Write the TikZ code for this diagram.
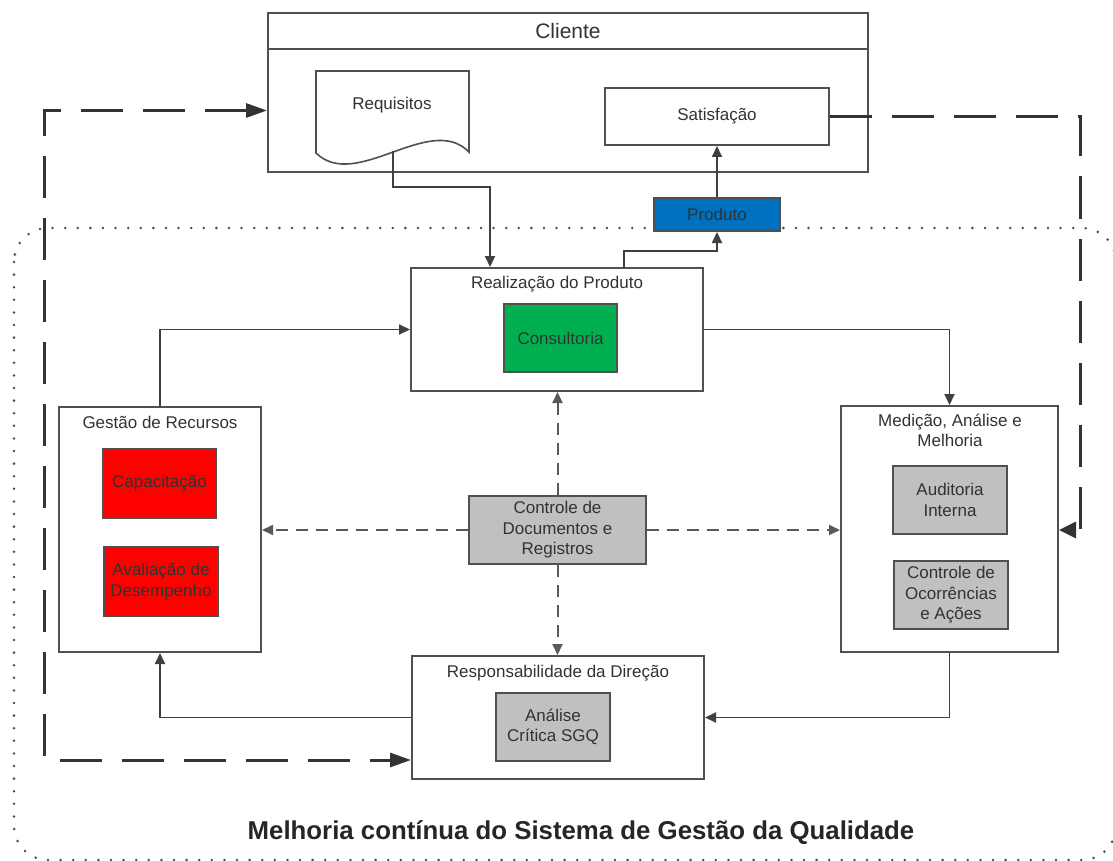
\documentclass[tikz,border=0pt]{standalone}
\usepackage{fontspec}
\setmainfont{Liberation Sans}
\usetikzlibrary{arrows.meta}
\definecolor{bord}{RGB}{80,80,80}
\definecolor{txt}{RGB}{50,50,50}
\definecolor{redf}{RGB}{255,0,0}
\definecolor{greenf}{RGB}{0,176,80}
\definecolor{bluef}{RGB}{0,112,192}
\definecolor{grayf}{RGB}{192,192,192}
\begin{document}
\begin{tikzpicture}[x=1pt,y=-1pt,
  box/.style={draw=bord, line width=2pt, rectangle, inner sep=0pt, align=center,
    text=txt, font=\fontsize{17}{20.5}\selectfont},
  ttl/.style={inner sep=0pt, align=center, text=txt, font=\fontsize{17}{20.5}\selectfont},
  flow/.style={draw=black!75, line width=1.9pt, -{Triangle[length=11pt,width=10pt]}},
  ctl/.style={draw=black!65, line width=2pt, dash pattern=on 12pt off 8pt,
    -{Triangle[length=11pt,width=10pt]}},
  loopline/.style={draw=black!80, line width=3pt, dash pattern=on 42pt off 20pt},
  bigtip/.tip={Triangle[length=21pt,width=14pt]}
]
\useasboundingbox (0,0) rectangle (1113,861);

% dotted frame
\draw[draw=black!70, line width=2.8pt, dash pattern=on 0pt off 12.6pt, line cap=round,
  rounded corners=34pt] (14,228) rectangle (1116,860);

% Cliente
\node[box, minimum width=600pt, minimum height=36pt, font=\fontsize{21}{24}\selectfont]
  (clihead) at (568,31) {Cliente};
\node[box, minimum width=600pt, minimum height=123pt] (clibody) at (568,110.5) {};

% Requisitos document
\draw[draw=bord, line width=1.6pt, fill=white]
  (316,153) -- (316,71) -- (469,71) -- (469,152)
  .. controls (430,112) and (356,192) .. (316,153) -- cycle;
\node[ttl] (req) at (392,105) {Requisitos};
\coordinate (reqb) at (393,151);

\node[box, minimum width=224pt, minimum height=57pt] (sat) at (717,116.5) {Satisfação};
\node[box, fill=bluef, minimum width=126pt, minimum height=33pt] (prod) at (717,214.5) {Produto};

% Realizacao
\node[box, minimum width=292pt, minimum height=123pt] (real) at (557,329.5) {};
\node[ttl] (realt) at (557,284) {Realização do Produto};
\node[box, fill=greenf, minimum width=113pt, minimum height=68pt] (cons) at (560.5,338) {Consultoria};

% Gestao de Recursos
\node[box, minimum width=202pt, minimum height=245pt] (gest) at (160,529.5) {};
\node[ttl] (gestt) at (160,422) {Gestão de Recursos};
\node[box, fill=redf, minimum width=113pt, minimum height=69pt] (cap) at (159.5,483.5) {Capacitação};
\node[box, fill=redf, minimum width=114pt, minimum height=69pt] (aval) at (161,581.5) {Avaliação de\\Desempenho};

% Controle de Documentos
\node[box, fill=grayf, minimum width=177pt, minimum height=68pt] (ctrl) at (557.5,530)
  {Controle de\\Documentos e\\Registros};

% Medicao
\node[box, minimum width=217pt, minimum height=246pt] (med) at (949.5,529) {};
\node[ttl] (medt) at (950,430.5) {Medição, Análise e\\Melhoria};
\node[box, fill=grayf, minimum width=114pt, minimum height=68pt] (aud) at (950,500) {Auditoria\\Interna};
\node[box, fill=grayf, minimum width=114pt, minimum height=68pt] (ocor) at (951,595)
  {Controle de\\Ocorrências\\e Ações};

% Responsabilidade
\node[box, minimum width=292pt, minimum height=123pt] (resp) at (558,717.5) {};
\node[ttl] (respt) at (558,673) {Responsabilidade da Direção};
\node[box, fill=grayf, minimum width=114pt, minimum height=68pt] (anal) at (553,727) {Análise\\Crítica SGQ};

% title
\node[inner sep=0pt, text=black!85, font=\fontsize{25.8}{29}\selectfont\bfseries] (title) at (581,833)
  {Melhoria contínua do Sistema de Gestão da Qualidade};

% solid flows
\draw[flow] (reqb) -- ++(0,36) -| ([xshift=-67pt]real.north);
\draw[flow] ([xshift=67pt]real.north) -- ++(0,-16) -| (prod.south);
\draw[flow] (prod.north) -- (sat.south);
\draw[flow] (gest.north) |- (real.west);
\draw[flow] (real.east) -| (med.north);
\draw[flow] (med.south) |- (resp.east);
\draw[flow] (resp.west) -| (gest.south);

% control dashed
\draw[ctl] (ctrl.west) -- (gest.east |- ctrl.west);
\draw[ctl] (ctrl.east) -- (med.west |- ctrl.east);
\draw[ctl] (ctrl.north) -- (real.south -| ctrl.north);
\draw[ctl] (ctrl.south) -- (resp.north -| ctrl.south);

% big dashed loops
\coordinate (lt) at (44,110.5);
\coordinate (lb) at (44,760);
\draw[loopline, bigtip-bigtip] (clibody.west) -- (lt) -- (lb) -- (resp.west |- lb);
\coordinate (rt) at (1080,116.5);
\coordinate (rb) at (1080,530);
\draw[loopline, -{Triangle[length=17pt,width=16pt]}] (sat.east) -- (rt) -- (rb) -- (med.east |- rb);
\end{tikzpicture}
\end{document}
